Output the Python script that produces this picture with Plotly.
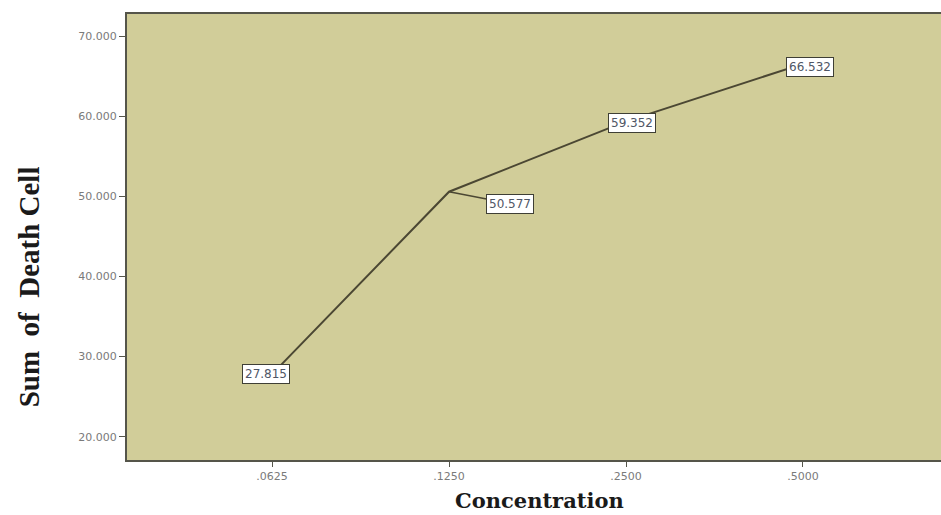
import plotly.graph_objects as go

concentration = [".0625", ".1250", ".2500", ".5000"]
death_cell = [27.815, 50.577, 59.352, 66.532]
y_ticks = [20, 30, 40, 50, 60, 70]
y_tick_labels = ["20.000", "30.000", "40.000", "50.000", "60.000", "70.000"]

line_color = "#4b4733"
axis_color = "#55554a"

fig = go.Figure()
fig.add_trace(
    go.Scatter(
        x=concentration,
        y=death_cell,
        mode="lines",
        line=dict(color=line_color, width=2),
        hoverinfo="skip",
    )
)

# value labels, the second one pulled off to the lower right with a leader line
# (category axis: annotations use the category index, the labels look numeric)
offsets = [(-6, 0), (61, 12), (6, 2), (7, 3)]
for i, (val, (dx, dy)) in enumerate(zip(death_cell, offsets)):
    fig.add_annotation(
        x=i, y=val,
        text=f"{val:.3f}",
        showarrow=True,
        arrowhead=0,
        arrowwidth=1.5,
        arrowcolor=line_color,
        ax=dx, ay=dy,
        standoff=0,
        bgcolor="white",
        bordercolor="#3f3f35",
        borderwidth=1,
        borderpad=2,
        font=dict(family="DejaVu Sans", size=12, color="#4f5666"),
    )

# axis titles
fig.add_annotation(
    text="<b>Sum  of  Death Cell</b>",
    xref="paper", yref="paper",
    x=-0.142, y=0.388,
    textangle=-90,
    showarrow=False,
    font=dict(family="Liberation Serif", size=29, color="#1a1a1a"),
)
fig.add_annotation(
    text="<b>Concentration</b>",
    xref="paper", yref="paper",
    x=0.507, y=-0.09,
    yanchor="middle",
    showarrow=False,
    font=dict(family="DejaVu Serif", size=21, color="#1a1a1a"),
)

fig.update_layout(
    width=941,
    height=515,
    margin=dict(l=127, r=0, t=14, b=55),
    paper_bgcolor="white",
    plot_bgcolor="#d1cd99",
    showlegend=False,
    xaxis=dict(
        type="category",
        range=[-0.82, 3.78],
        automargin=False,
        showline=True,
        linecolor=axis_color,
        linewidth=2,
        mirror=True,
        ticks="outside",
        ticklen=5,
        tickcolor=axis_color,
        showgrid=False,
        tickfont=dict(family="DejaVu Sans", size=11, color="#7a7a7a"),
    ),
    yaxis=dict(
        range=[17.1, 72.75],
        automargin=False,
        tickvals=y_ticks,
        ticktext=y_tick_labels,
        showline=True,
        linecolor=axis_color,
        linewidth=2,
        ticks="outside",
        ticklen=6,
        tickcolor=axis_color,
        showgrid=False,
        zeroline=False,
        tickfont=dict(family="DejaVu Sans", size=11, color="#7a7a7a"),
    ),
)

# drop the browser's default body margin so the figure fills the window
fig.write_html(
    "out.html",
    config={"displayModeBar": False},
    post_script="document.body.style.margin = '0';",
)
